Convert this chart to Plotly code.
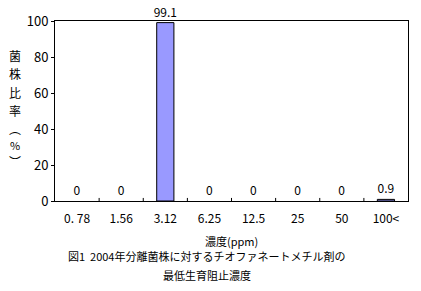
import plotly.graph_objects as go

categories = ["0. 78", "1.56", "3.12", "6.25", "12.5", "25", "50", "100<"]
values = [0, 0, 99.1, 0, 0, 0, 0, 0.9]
labels = ["0", "0", "99.1", "0", "0", "0", "0", "0.9"]
y_ticks = [0, 20, 40, 60, 80, 100]
y_title_chars = ["菌", "株", "比", "率", "︵", "%", "︶"]

FONT = "Noto Sans CJK JP"
PLOT_TOP, PLOT_BOTTOM = 21, 201

fig = go.Figure()
fig.add_trace(go.Bar(
    x=list(range(len(categories))), y=values,
    text=labels, textposition="outside", cliponaxis=False, constraintext="none",
    textfont=dict(family=FONT, size=12, color="black"),
    marker=dict(color="#9999FF",
                line=dict(color="black", width=[1 if v > 0 else 0 for v in values])),
    width=0.39,
))

fig.update_layout(
    width=421, height=291,
    margin=dict(l=55, r=13, t=PLOT_TOP, b=291 - PLOT_BOTTOM),
    paper_bgcolor="white", plot_bgcolor="white",
    showlegend=False,
    font=dict(family=FONT, size=12, color="black"),
    xaxis=dict(
        range=[-0.5, len(categories) - 0.5],
        tickmode="array", tickvals=list(range(len(categories))), ticktext=categories,
        showline=True, linecolor="black", linewidth=1, mirror=True,
        ticks="outside", ticklen=7, tickcolor="rgba(0,0,0,0)",
        showgrid=False, zeroline=False,
        tickfont=dict(size=12),
    ),
    yaxis=dict(
        range=[0, 100], tickvals=y_ticks,
        showline=True, linecolor="black", linewidth=1, mirror=True,
        ticks="outside", ticklen=3, tickcolor="black",
        showgrid=False, zeroline=False,
        tickfont=dict(size=13),
    ),
)

# inside tick marks at category boundaries
for i in range(1, len(categories)):
    fig.add_shape(type="line", xref="x", yref="paper",
                  x0=i - 0.5, x1=i - 0.5, y0=0, y1=0.017,
                  line=dict(color="black", width=1))

# vertical y-axis title, one character per line
char_y = [55, 73.5, 92, 110.5, 128, 144.5, 161]
for ch, yp in zip(y_title_chars, char_y):
    fig.add_annotation(text=ch, xref="paper", yref="paper",
                       x=-0.113, y=(PLOT_BOTTOM - yp) / (PLOT_BOTTOM - PLOT_TOP),
                       showarrow=False, xanchor="center", yanchor="middle",
                       font=dict(size=12 if ch != "%" else 11))

fig.add_annotation(text="濃度(ppm)", xref="paper", yref="paper",
                   x=0.5, y=-0.22, showarrow=False, xanchor="center", yanchor="middle",
                   font=dict(size=11))
fig.add_annotation(text="図1  2004年分離菌株に対するチオファネートメチル剤の", xref="paper", yref="paper",
                   x=0.43, y=-0.305, showarrow=False, xanchor="center", yanchor="middle",
                   font=dict(size=11))
fig.add_annotation(text="最低生育阻止濃度", xref="paper", yref="paper",
                   x=0.43, y=-0.41, showarrow=False, xanchor="center", yanchor="middle",
                   font=dict(size=11))

fig.write_html("out.html")
